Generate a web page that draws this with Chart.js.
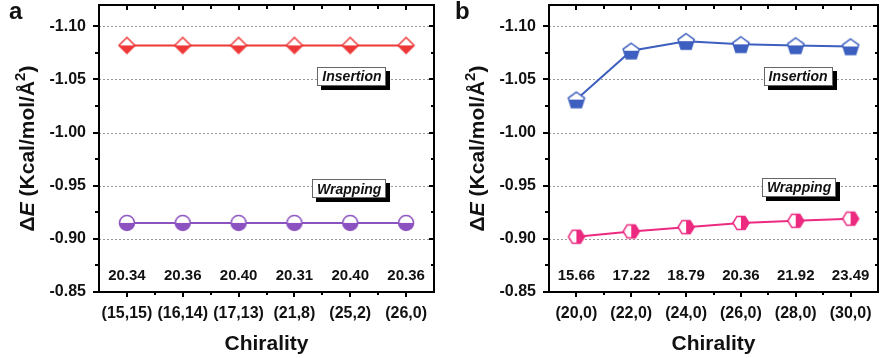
<!DOCTYPE html>
<html>
<head>
<meta charset="utf-8">
<script src="https://cdn.jsdelivr.net/npm/chart.js@4"></script>
<style>
  body { margin: 0; background: #fff; width: 888px; height: 358px; position: relative; overflow: hidden; }
  canvas { position: absolute; top: -5px; }
  #chartA { left: 0; }
  #chartB { left: 444px; }
</style>
</head>
<body>
<canvas id="chartA" width="444" height="363"></canvas>
<canvas id="chartB" width="444" height="363"></canvas>
<script>
// Panel a - nanotubes of similar diameter, different chirality
const chiralityA = ['(15,15)', '(16,14)', '(17,13)', '(21,8)', '(25,2)', '(26,0)'];
const insertionA = [-1.082, -1.082, -1.082, -1.082, -1.082, -1.082];
const wrappingA = [-0.915, -0.915, -0.915, -0.915, -0.915, -0.915];
const diameterA = ['20.34', '20.36', '20.40', '20.31', '20.40', '20.36'];

// Panel b - zigzag nanotubes of growing diameter
const chiralityB = ['(20,0)', '(22,0)', '(24,0)', '(26,0)', '(28,0)', '(30,0)'];
const insertionB = [-1.031, -1.077, -1.086, -1.083, -1.082, -1.081];
const wrappingB = [-0.902, -0.907, -0.911, -0.915, -0.917, -0.919];
const diameterB = ['15.66', '17.22', '18.79', '20.36', '21.92', '23.49'];

const yTicks = [-1.10, -1.05, -1.00, -0.95, -0.90, -0.85];
const yMinorTicks = [-1.075, -1.025, -0.975, -0.925, -0.875];

const FONT = '"Liberation Sans", Arial, sans-serif';

// half-filled marker images
function shapePath(g, shape, cx, cy, r) {
  g.beginPath();
  if (shape === 'circle') {
    g.arc(cx, cy, r, 0, Math.PI * 2);
  } else {
    let pts;
    if (shape === 'diamond') pts = [[0, -r], [r, 0], [0, r], [-r, 0]];
    if (shape === 'pentagon') pts = [0, 1, 2, 3, 4].map(k => {
      const t = -Math.PI / 2 + k * 2 * Math.PI / 5;
      return [r * Math.cos(t), r * Math.sin(t) + 1];
    });
    if (shape === 'hexagon') pts = [0, 1, 2, 3, 4, 5].map(k => {
      const t = k * Math.PI / 3;
      return [r * Math.cos(t), r * 0.95 * Math.sin(t)];
    });
    pts.forEach((p, i) => i ? g.lineTo(cx + p[0], cy + p[1]) : g.moveTo(cx + p[0], cy + p[1]));
    g.closePath();
  }
}

function marker(shape, color, r, half) {
  const c = document.createElement('canvas');
  const s = Math.ceil(r * 2 + 4) + (Math.ceil(r * 2 + 4) % 2);
  c.width = s; c.height = s;
  const g = c.getContext('2d');
  const m = s / 2;
  shapePath(g, shape, m, m, r);
  g.fillStyle = '#fff';
  g.fill();
  g.save();
  g.clip();
  g.fillStyle = color;
  if (half === 'bottom') g.fillRect(0, m, s, s);
  else g.fillRect(m, 0, s, s);
  g.restore();
  shapePath(g, shape, m, m, r);
  g.strokeStyle = color;
  g.lineWidth = 1.5;
  g.stroke();
  return c;
}

function drawBox(ctx, text, cx, cy) {
  ctx.font = 'italic bold 14px ' + FONT;
  const w = Math.round(ctx.measureText(text).width + 10), h = 19;
  const x = Math.round(cx - w / 2), y = Math.round(cy - h / 2);
  ctx.fillStyle = '#000';
  ctx.fillRect(x + 4, y + 4, w, h);
  ctx.fillStyle = '#fff';
  ctx.fillRect(x, y, w, h);
  ctx.fillStyle = '#666';
  ctx.fillRect(x, y, w, 1);
  ctx.fillRect(x, y + h - 1, w, 1);
  ctx.fillRect(x, y, 1, h);
  ctx.fillRect(x + w - 1, y, 1, h);
  ctx.fillStyle = '#111';
  ctx.textAlign = 'center';
  ctx.textBaseline = 'middle';
  ctx.fillText(text, cx, cy + 1);
}

function drawYTitle(ctx, x, yc) {
  const parts = [
    ['Δ', 'bold 21px ' + FONT, 0],
    ['E', 'italic bold 21px ' + FONT, 0],
    [' (Kcal/mol/Å', 'bold 21px ' + FONT, 0],
    ['2', 'bold 15px ' + FONT, -9],
    [')', 'bold 21px ' + FONT, 0]
  ];
  let total = 0;
  parts.forEach(p => { ctx.font = p[1]; total += ctx.measureText(p[0]).width; });
  ctx.save();
  ctx.translate(x, yc);
  ctx.rotate(-Math.PI / 2);
  ctx.fillStyle = '#111';
  ctx.textAlign = 'left';
  ctx.textBaseline = 'alphabetic';
  let cx = -total / 2;
  parts.forEach(p => {
    ctx.font = p[1];
    ctx.fillText(p[0], cx, p[2]);
    cx += ctx.measureText(p[0]).width;
  });
  ctx.restore();
}

// black box round the plot, with major and minor ticks
function drawFrame(chart) {
  const { ctx, chartArea: a, scales: { x, y } } = chart;
  ctx.save();
  ctx.globalAlpha = 1;
  ctx.globalCompositeOperation = 'source-over';
  ctx.fillStyle = '#000';
  const L = Math.round(a.left), R = Math.round(a.right), T = Math.round(a.top), B = Math.round(a.bottom);
  ctx.fillRect(L - 1, T - 1, R - L + 2, 2);
  ctx.fillRect(L - 1, B - 1, R - L + 2, 2);
  ctx.fillRect(L - 1, T - 1, 2, B - T + 2);
  ctx.fillRect(R - 1, T - 1, 2, B - T + 2);
  yTicks.forEach(v => {
    const py = Math.round(y.getPixelForValue(v));
    ctx.fillRect(L - 6, py - 1, 6, 2);
    ctx.fillRect(R - 5, py - 1, 5, 2);
  });
  yMinorTicks.forEach(v => {
    const py = Math.round(y.getPixelForValue(v));
    ctx.fillRect(L - 4, py - 1, 4, 2);
    ctx.fillRect(R - 3, py - 1, 3, 2);
  });
  const n = chart.data.labels.length;
  for (let i = 0; i < n; i++) {
    const px = Math.round(x.getPixelForValue(i));
    ctx.fillRect(px - 1, B, 2, 5);
    ctx.fillRect(px - 1, T, 2, 5);
    if (i < n - 1) {
      const mx = Math.round((x.getPixelForValue(i) + x.getPixelForValue(i + 1)) / 2);
      ctx.fillRect(mx - 1, B, 2, 3);
      ctx.fillRect(mx - 1, T, 2, 4);
    }
  }
  ctx.restore();
}

const framePlugin = {
  id: 'frame',
  beforeDatasetsDraw(chart) {
    const { ctx, chartArea: a, scales: { y } } = chart;
    ctx.save();
    ctx.fillStyle = '#9a9a9a';
    yTicks.slice(0, -1).forEach(v => {
      const py = Math.round(y.getPixelForValue(v));
      for (let px = a.left; px < a.right; px += 4) ctx.fillRect(px, py, 2, 1);
    });
    ctx.restore();
    drawFrame(chart);
  },
  afterDraw(chart, args, opts) {
    const { ctx, chartArea: a, scales: { x, y } } = chart;
    ctx.save();

    // diameters written inside the plot
    ctx.fillStyle = '#111';
    ctx.font = 'bold 15px ' + FONT;
    ctx.textAlign = 'center';
    ctx.textBaseline = 'middle';
    opts.values.forEach((t, i) => ctx.fillText(t, x.getPixelForValue(i), y.getPixelForValue(-0.865)));

    opts.boxes.forEach(b => drawBox(ctx, b.text, a.left + b.xf * (a.right - a.left), y.getPixelForValue(b.yv)));

    drawYTitle(ctx, opts.titleX, (a.top + a.bottom) / 2);

    ctx.font = 'bold 24px ' + FONT;
    ctx.textAlign = 'left';
    ctx.textBaseline = 'alphabetic';
    ctx.fillStyle = '#111';
    ctx.fillText(opts.letter, opts.letterX, 24);
    ctx.restore();

    drawFrame(chart);
  }
};

function makeChart(id, labels, ins, wrap, diam, cfg) {
  return new Chart(document.getElementById(id), {
    type: 'line',
    data: {
      labels: labels,
      datasets: [
        {
          label: 'Insertion',
          data: ins,
          borderColor: cfg.insColor,
          borderWidth: 2,
          pointStyle: cfg.insMarker,
          pointRadius: 8
        },
        {
          label: 'Wrapping',
          data: wrap,
          borderColor: cfg.wrapColor,
          borderWidth: 2,
          pointStyle: cfg.wrapMarker,
          pointRadius: 8
        }
      ]
    },
    options: {
      responsive: false,
      animation: false,
      layout: { padding: { top: 4, right: cfg.padRight, left: 0, bottom: 0 } },
      plugins: {
        legend: { display: false },
        tooltip: { enabled: false },
        frame: {
          values: diam,
          boxes: cfg.boxes,
          titleX: cfg.titleX,
          letter: cfg.letter,
          letterX: cfg.letterX
        }
      },
      scales: {
        x: {
          type: 'category',
          offset: true,
          grid: { display: false, drawTicks: false },
          border: { display: false },
          ticks: {
            color: '#111',
            font: { family: FONT, size: 16, weight: 'bold' },
            padding: 12,
            maxRotation: 0,
            autoSkip: false
          },
          title: {
            display: true,
            text: 'Chirality',
            color: '#111',
            font: { family: FONT, size: 21, weight: 'bold' },
            padding: { top: 0, bottom: 1 }
          },
          afterFit: s => { s.height = 66; s.paddingLeft = 0; s.paddingRight = 0; }
        },
        y: {
          type: 'linear',
          reverse: true,
          min: -1.12,
          max: -0.85,
          grid: { display: false, drawTicks: false },
          border: { display: false },
          afterBuildTicks: s => { s.ticks = yTicks.map(v => ({ value: v })); },
          ticks: {
            color: '#111',
            font: { family: FONT, size: 16, weight: 'bold' },
            padding: 13,
            callback: v => v.toFixed(2)
          },
          afterFit: s => { s.width = cfg.leftW; s.paddingTop = 0; s.paddingBottom = 0; }
        }
      }
    },
    plugins: [framePlugin]
  });
}

makeChart('chartA', chiralityA, insertionA, wrappingA, diameterA, {
  insColor: '#ee3838',
  wrapColor: '#8c52c0',
  insMarker: marker('diamond', '#ee3838', 8, 'bottom'),
  wrapMarker: marker('circle', '#8c52c0', 7.5, 'bottom'),
  padRight: 9,
  leftW: 99,
  titleX: 34,
  letter: 'a',
  letterX: 9,
  boxes: [
    { text: 'Insertion', xf: 0.755, yv: -1.053 },
    { text: 'Wrapping', xf: 0.747, yv: -0.947 }
  ]
});

makeChart('chartB', chiralityB, insertionB, wrappingB, diameterB, {
  insColor: '#3d5fbf',
  wrapColor: '#ec2a80',
  insMarker: marker('pentagon', '#3d5fbf', 8.5, 'bottom'),
  wrapMarker: marker('hexagon', '#ec2a80', 8, 'right'),
  padRight: 2,
  leftW: 105,
  titleX: 40,
  letter: 'b',
  letterX: 11,
  boxes: [
    { text: 'Insertion', xf: 0.757, yv: -1.053 },
    { text: 'Wrapping', xf: 0.76, yv: -0.9485 }
  ]
});
</script>
</body>
</html>
